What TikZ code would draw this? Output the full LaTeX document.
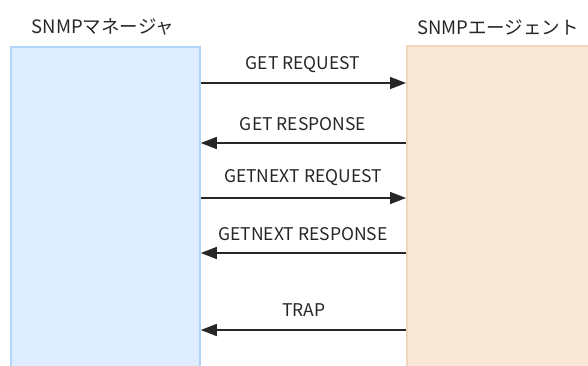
\documentclass[tikz,border=0pt]{standalone}
\usepackage{fontspec}
\setmainfont{Noto Sans CJK JP}
\usetikzlibrary{arrows.meta}
\definecolor{mgrfill}{RGB}{221,236,254}
\definecolor{mgrline}{RGB}{178,212,248}
\definecolor{agtfill}{RGB}{248,230,214}
\definecolor{agtline}{RGB}{242,214,188}
\begin{document}
\begin{tikzpicture}[x=1pt,y=-1pt,
  lbl/.style={font=\fontsize{17.5}{19}\selectfont, text=black!85, inner sep=0pt},
  ttl/.style={font=\fontsize{18.5}{20}\selectfont, text=black!85, inner sep=0pt},
  msg/.style={line width=1.5pt, draw=black!85, -{Triangle[length=16pt,width=12pt]}},
  mgrbox/.style={draw=mgrline, fill=mgrfill, line width=1.8pt, anchor=north west, inner sep=0pt, minimum width=189pt, minimum height=330pt},
  agtbox/.style={draw=agtline, fill=agtfill, line width=1.8pt, anchor=north west, inner sep=0pt, minimum width=190pt, minimum height=330pt}
]
\clip (0,0) rectangle (588,365);
\node[mgrbox] (mgr) at (10,46) {};
\node[agtbox] (agt) at (406,45) {};
\node[ttl] (tmgr) at (103,27) {SNMPマネージャ};
\node[ttl] (tagt) at (498,27) {SNMPエージェント};
\coordinate (y1) at (0,83);
\coordinate (y2) at (0,143);
\coordinate (y3) at (0,198);
\coordinate (y4) at (0,253);
\coordinate (y5) at (0,330);
\draw[msg] (mgr.east |- y1) -- (agt.west |- y1);
\draw[msg] (agt.west |- y2) -- (mgr.east |- y2);
\draw[msg] (mgr.east |- y3) -- (agt.west |- y3);
\draw[msg] (agt.west |- y4) -- (mgr.east |- y4);
\draw[msg] (agt.west |- y5) -- (mgr.east |- y5);
\node[lbl] (l1) at (303,65) {GET REQUEST};
\node[lbl] (l2) at (303,124) {GET RESPONSE};
\node[lbl] (l3) at (303,178) {GETNEXT REQUEST};
\node[lbl] (l4) at (303,234) {GETNEXT RESPONSE};
\node[lbl] (l5) at (304,310) {TRAP};
\end{tikzpicture}
\end{document}
